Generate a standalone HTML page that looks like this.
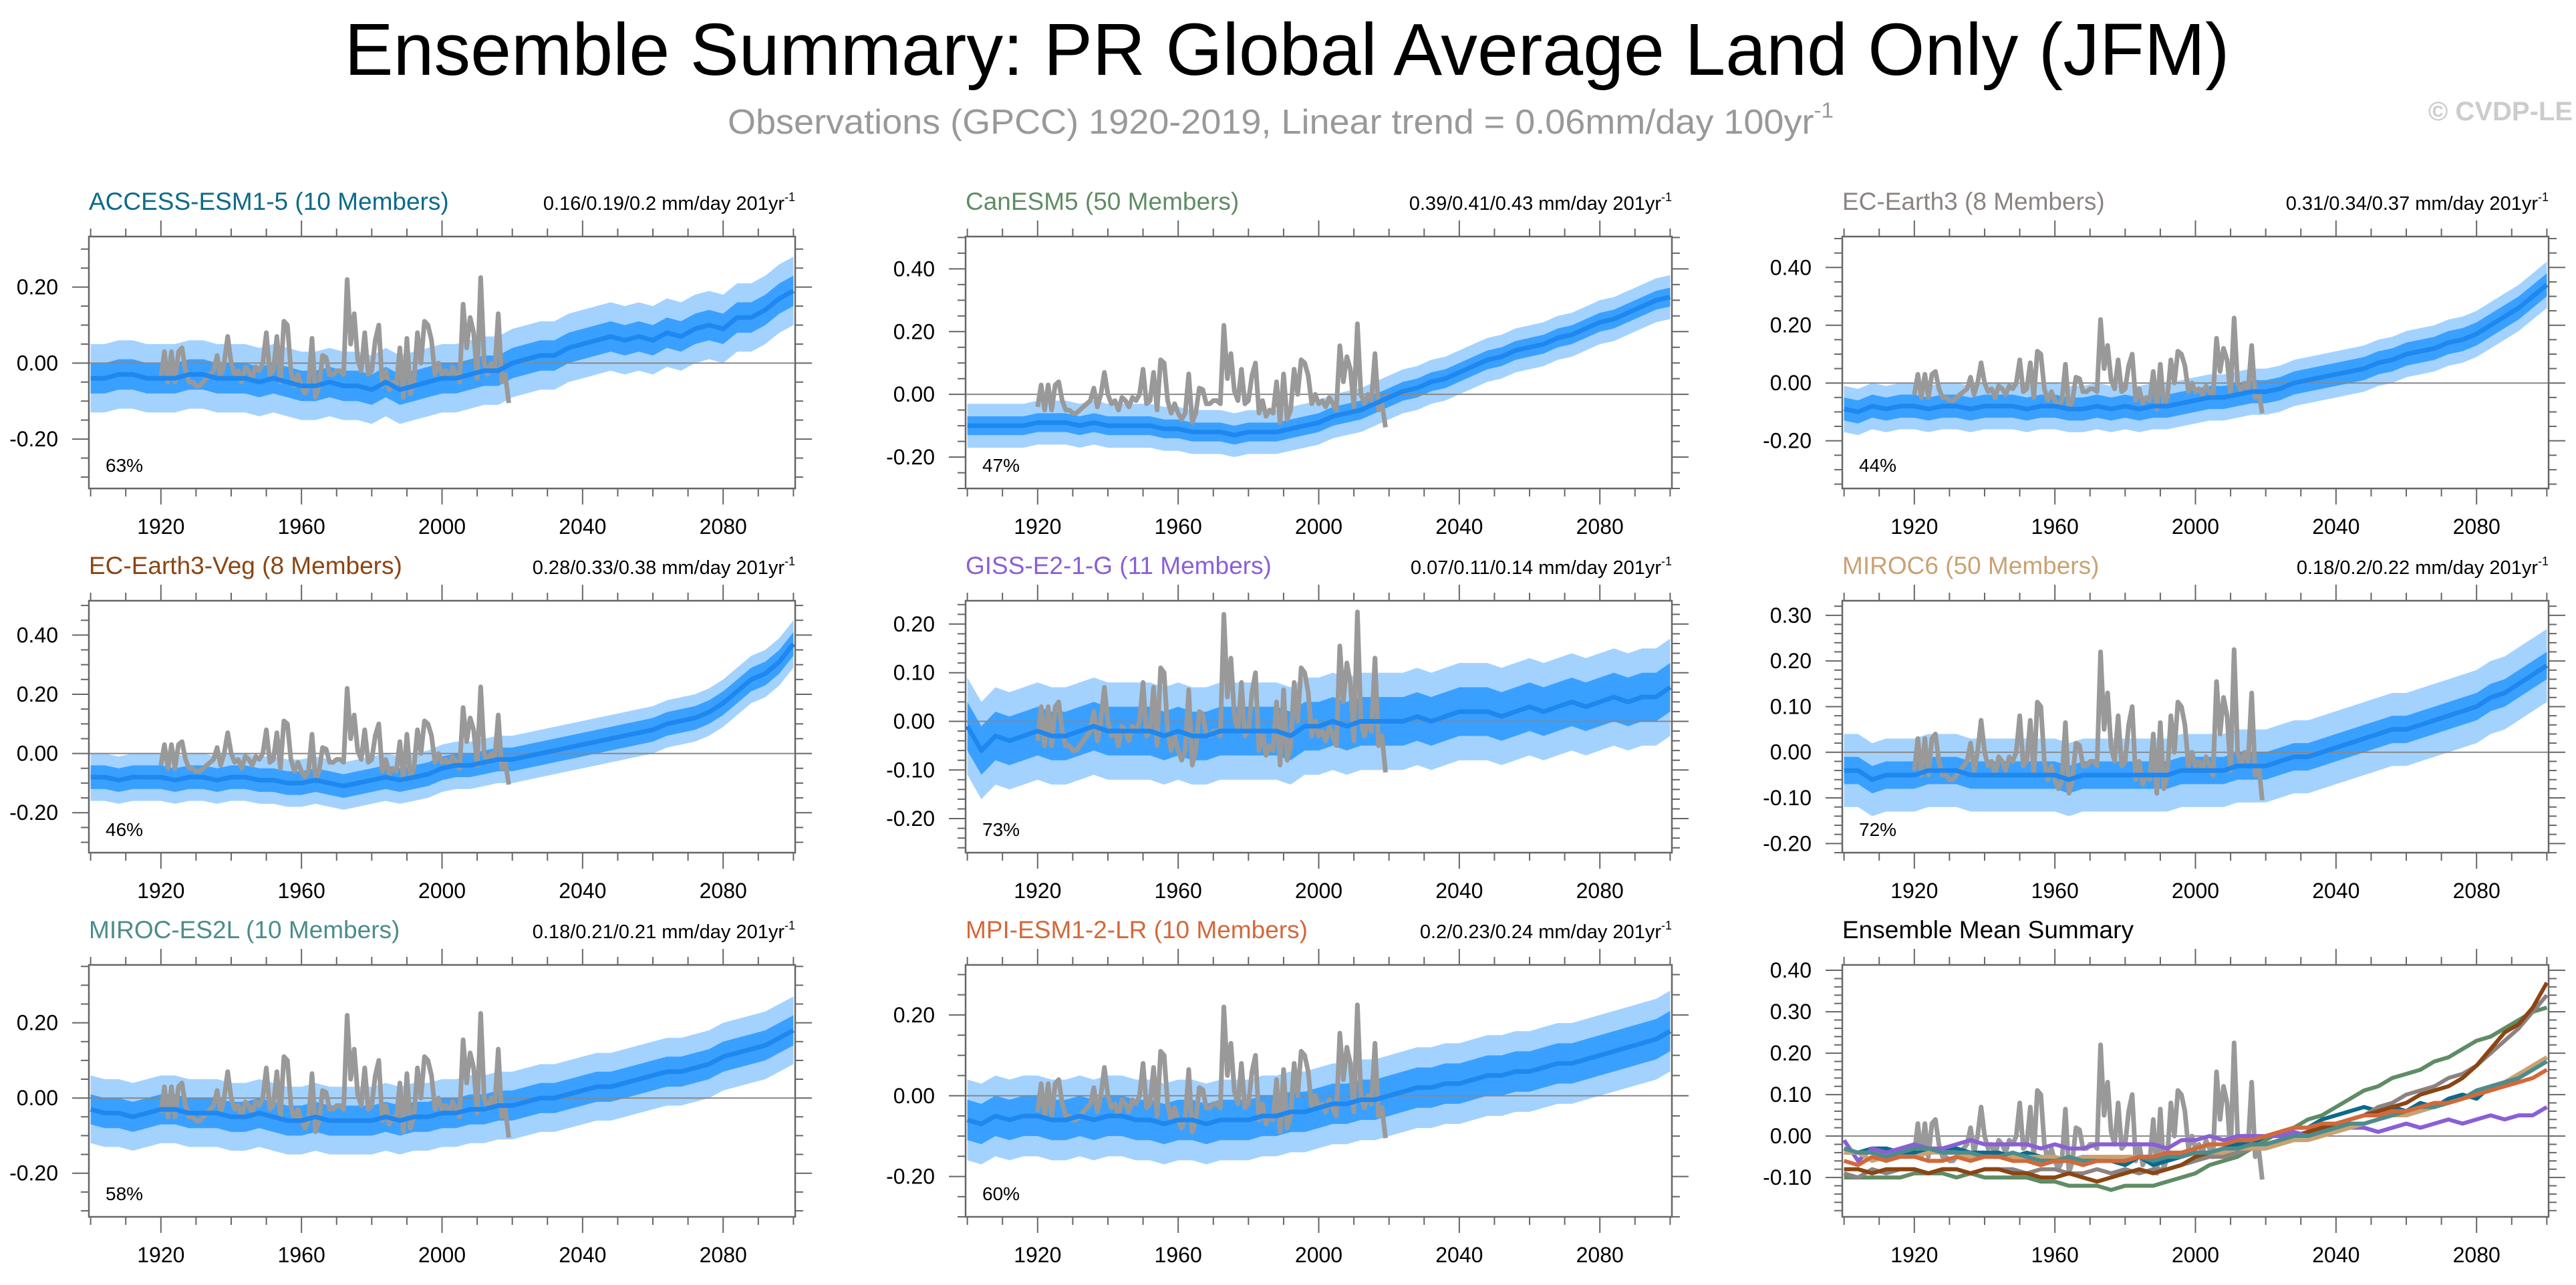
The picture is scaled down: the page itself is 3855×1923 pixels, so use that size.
<!DOCTYPE html>
<html><head><meta charset="utf-8"><title>Ensemble Summary PR</title>
<style>
html,body{margin:0;padding:0;background:#fff;}
svg{display:block;font-family:"Liberation Sans",Arial,sans-serif;}
</style></head>
<body>
<svg id="fig" width="3855" height="1923" viewBox="0 0 3855 1923" xmlns="http://www.w3.org/2000/svg">
<rect x="0" y="0" width="3855" height="1923" fill="#fff"/>
<text x="1926" y="112" font-size="110" text-anchor="middle" fill="#000" textLength="2821" lengthAdjust="spacingAndGlyphs">Ensemble Summary: PR Global Average Land Only (JFM)</text>
<text x="1089" y="200" font-size="52" fill="#999" textLength="1655" lengthAdjust="spacingAndGlyphs">Observations (GPCC) 1920-2019, Linear trend = 0.06mm/day 100yr<tspan font-size="32" dy="-24">-1</tspan></text>
<text x="3850" y="180" font-size="40" font-weight="bold" fill="#ccc" text-anchor="end">© CVDP-LE</text>
<g id="panels"></g>
</svg>
<script>
// ---- data ----
const obsYears0 = 1920;
const obs = [-0.04,0.03,-0.05,0.03,-0.05,0.03,0.04,-0.02,-0.05,-0.05,
-0.06,-0.06,-0.05,-0.04,-0.03,-0.02,0.02,-0.04,0.0,0.07,
0.0,-0.03,-0.02,-0.05,-0.01,-0.02,-0.04,-0.01,-0.02,0.0,
0.08,-0.03,-0.02,0.07,-0.05,0.11,0.10,-0.02,-0.06,-0.03,
-0.06,-0.08,-0.06,0.065,-0.09,-0.06,0.02,0.015,-0.03,-0.03,
-0.02,-0.02,-0.03,0.22,0.05,0.13,0.01,-0.02,0.08,-0.03,
-0.02,0.06,0.10,-0.06,-0.02,-0.07,-0.05,-0.06,0.04,-0.09,
0.065,-0.08,-0.05,0.08,0.0,0.11,0.10,0.06,-0.03,0.0,
-0.03,-0.02,-0.04,-0.01,-0.03,-0.05,0.155,0.04,0.12,0.08,
-0.04,0.225,0.0,-0.03,0.0,-0.02,0.13,-0.05,-0.03,-0.105];
const meanYears0 = 1900;
const meanStep = 4;
const accessMean = [-0.04,-0.04,-0.03,-0.03,-0.04,-0.04,-0.04,-0.03,-0.03,-0.04,-0.04,-0.04,-0.05,-0.04,-0.05,-0.06,-0.06,-0.05,-0.06,-0.06,-0.07,-0.05,-0.07,-0.06,-0.05,-0.04,-0.04,-0.03,-0.02,-0.02,0.0,0.01,0.02,0.02,0.04,0.05,0.06,0.07,0.06,0.07,0.06,0.08,0.07,0.09,0.10,0.09,0.12,0.12,0.14,0.17,0.19];
const canesmMean = [-0.10,-0.10,-0.10,-0.10,-0.10,-0.09,-0.09,-0.09,-0.10,-0.09,-0.10,-0.10,-0.10,-0.10,-0.11,-0.11,-0.12,-0.12,-0.12,-0.13,-0.12,-0.12,-0.12,-0.11,-0.10,-0.09,-0.07,-0.06,-0.05,-0.03,-0.01,0.01,0.02,0.04,0.05,0.07,0.09,0.11,0.12,0.14,0.15,0.16,0.18,0.19,0.21,0.23,0.24,0.26,0.28,0.30,0.31];
const ecearthMean = [-0.09,-0.10,-0.08,-0.09,-0.08,-0.08,-0.09,-0.08,-0.08,-0.09,-0.08,-0.08,-0.08,-0.09,-0.08,-0.08,-0.09,-0.09,-0.08,-0.09,-0.08,-0.09,-0.08,-0.08,-0.07,-0.06,-0.05,-0.05,-0.04,-0.03,-0.03,-0.02,0.0,0.01,0.02,0.03,0.04,0.05,0.07,0.08,0.10,0.11,0.12,0.14,0.15,0.17,0.20,0.23,0.26,0.30,0.34];
const vegMean = [-0.08,-0.08,-0.09,-0.08,-0.08,-0.08,-0.09,-0.08,-0.08,-0.09,-0.08,-0.08,-0.09,-0.09,-0.10,-0.10,-0.09,-0.10,-0.11,-0.10,-0.09,-0.08,-0.09,-0.08,-0.07,-0.05,-0.04,-0.04,-0.03,-0.02,-0.02,-0.01,0.0,0.01,0.02,0.03,0.04,0.05,0.06,0.07,0.08,0.10,0.11,0.12,0.14,0.17,0.21,0.25,0.27,0.31,0.37];
const gissMean = [-0.01,-0.06,-0.03,-0.04,-0.03,-0.02,-0.03,-0.03,-0.02,-0.01,-0.02,-0.02,-0.02,-0.02,-0.03,-0.02,-0.03,-0.03,-0.02,-0.02,-0.02,-0.02,-0.02,-0.03,-0.01,-0.01,0.0,-0.01,0.0,0.0,0.0,0.0,0.01,0.0,0.01,0.02,0.02,0.02,0.01,0.02,0.03,0.02,0.03,0.04,0.03,0.04,0.05,0.04,0.05,0.05,0.07];
const miroc6Mean = [-0.04,-0.04,-0.06,-0.05,-0.05,-0.05,-0.04,-0.04,-0.04,-0.05,-0.05,-0.05,-0.05,-0.05,-0.05,-0.05,-0.06,-0.05,-0.05,-0.05,-0.05,-0.05,-0.05,-0.05,-0.04,-0.04,-0.04,-0.04,-0.03,-0.03,-0.03,-0.02,-0.01,-0.01,0.0,0.01,0.02,0.03,0.04,0.05,0.05,0.06,0.07,0.08,0.09,0.10,0.12,0.13,0.15,0.17,0.19];
const es2lMean = [-0.03,-0.04,-0.04,-0.05,-0.04,-0.03,-0.03,-0.04,-0.04,-0.04,-0.05,-0.05,-0.04,-0.05,-0.06,-0.06,-0.05,-0.06,-0.06,-0.06,-0.06,-0.05,-0.06,-0.05,-0.05,-0.04,-0.04,-0.03,-0.03,-0.02,-0.02,-0.01,0.0,0.0,0.01,0.02,0.03,0.03,0.04,0.05,0.06,0.07,0.07,0.08,0.09,0.11,0.12,0.13,0.14,0.16,0.18];
const mpiMean = [-0.06,-0.07,-0.05,-0.06,-0.05,-0.05,-0.06,-0.06,-0.05,-0.06,-0.05,-0.05,-0.06,-0.06,-0.07,-0.06,-0.06,-0.07,-0.06,-0.06,-0.06,-0.05,-0.05,-0.04,-0.04,-0.03,-0.02,-0.02,-0.01,-0.01,0.0,0.01,0.02,0.02,0.03,0.03,0.04,0.05,0.05,0.06,0.06,0.07,0.08,0.08,0.09,0.10,0.11,0.12,0.13,0.14,0.16];
const modelNames = ["ACCESS-ESM1-5 (10 Members)","CanESM5 (50 Members)","EC-Earth3 (8 Members)","EC-Earth3-Veg (8 Members)","GISS-E2-1-G (11 Members)","MIROC6 (50 Members)","MIROC-ES2L (10 Members)","MPI-ESM1-2-LR (10 Members)"];
const trendLabels = ["0.16/0.19/0.2","0.39/0.41/0.43","0.31/0.34/0.37","0.28/0.33/0.38","0.07/0.11/0.14","0.18/0.2/0.22","0.18/0.21/0.21","0.2/0.23/0.24"];
const pctLabels = ["63%","47%","44%","46%","73%","72%","58%","60%"];
const innerSpread = [0.04,0.03,0.04,0.04,0.05,0.03,0.04,0.05];
const outerSpread = [0.09,0.07,0.08,0.08,0.10,0.08,0.09,0.10];
const yMin = [-0.33,-0.30,-0.365,-0.335,-0.27,-0.22,-0.316,-0.30,-0.195];
const yMax = [0.333,0.503,0.507,0.516,0.248,0.332,0.354,0.324,0.413];
const yMajor = [0.2,0.2,0.2,0.2,0.1,0.1,0.2,0.2,0.1];
const yMinor = [0.05,0.05,0.05,0.05,0.02,0.02,0.05,0.05,0.02];
const xTickLabels = [1920,1960,2000,2040,2080];
// ---- layout ----
const means = [accessMean,canesmMean,ecearthMean,vegMean,gissMean,miroc6Mean,es2lMean,mpiMean];
const modelColors = ["#0b6a8a","#5f8c65","#8c8282","#8b4513","#8a5fd6","#c9a272","#4c8c8c","#d4683a"];
const colX = [133,1445,2757], rowY = [354,899,1444], PW = 1057, PH = 377;
const NS = "http://www.w3.org/2000/svg";
const root = document.getElementById("panels");
function mk(tag, attrs, parent){const e=document.createElementNS(NS,tag);for(const k in attrs)e.setAttribute(k,attrs[k]);(parent||root).appendChild(e);return e;}

for(let p=0;p<9;p++){
  const x0=colX[p%3], y0=rowY[Math.floor(p/3)];
  const g=mk("g",{});
  
  
  const xs=yr=>x0+(yr-1899.5)/201*PW;
  const ys=v=>y0+PH-(v-yMin[p])/(yMax[p]-yMin[p])*PH;
  // title
  const t=mk("text",{x:x0,y:y0-40,"font-size":37,fill:p<8?modelColors[p]:"#000"},g);
  t.textContent=p<8?modelNames[p]:"Ensemble Mean Summary";
  
  
  if(p<8){
    const tr=mk("text",{x:x0+PW,y:y0-40,"font-size":29,fill:"#000","text-anchor":"end"},g);
    tr.innerHTML=trendLabels[p]+" mm/day 201yr<tspan font-size='18' dy='-13'>-1</tspan>";
    
    
  }
  const clipId="clip"+p;
  const cp=mk("clipPath",{id:clipId},g);
  mk("rect",{x:x0,y:y0,width:PW,height:PH},cp);
  const pg=mk("g",{"clip-path":"url(#"+clipId+")"},g);
  if(p<8){
    const m=means[p];
    const band=(w,fill,name)=>{
      let up=[],dn=[];
      m.forEach((v,i)=>{const yr=meanYears0+i*meanStep;up.push(xs(yr)+","+ys(v+w));dn.unshift(xs(yr)+","+ys(v-w));});
      const b=mk("polygon",{points:up.concat(dn).join(" "),fill:fill},pg);
      
      
    };
    band(outerSpread[p],"#a3d2ff","outer-spread-band");
    band(innerSpread[p],"#3aa0ff","inner-spread-band");
  }
  // zero line
  const z=mk("line",{x1:x0,x2:x0+PW,y1:ys(0),y2:ys(0),stroke:"#888","stroke-width":2},pg);
  
  
  const obsLine=mk("polyline",{points:obs.map((v,i)=>xs(obsYears0+i)+","+ys(v)).join(" "),fill:"none",stroke:"#999","stroke-width":7,"stroke-linejoin":"round"},pg);
  
  
  if(p<8){
    const ml=mk("polyline",{points:means[p].map((v,i)=>xs(meanYears0+i*meanStep)+","+ys(v)).join(" "),fill:"none",stroke:"#1e88f0","stroke-width":7,"stroke-linejoin":"round"},pg);
    
    
  } else {
    means.forEach((m,k)=>{
      const ml=mk("polyline",{points:m.map((v,i)=>xs(meanYears0+i*meanStep)+","+ys(v)).join(" "),fill:"none",stroke:modelColors[k],"stroke-width":6,"stroke-linejoin":"round"},pg);
      
      
    });
  }
  // frame
  const fr=mk("rect",{x:x0,y:y0,width:PW,height:PH,fill:"none",stroke:"#666","stroke-width":2.5},g);
  
  
  // x ticks
  for(let yr=1900;yr<=2100;yr+=10){
    const major=xTickLabels.indexOf(yr)>=0, L=major?24:12, x=xs(yr);
    mk("line",{x1:x,x2:x,y1:y0,y2:y0-L,stroke:"#666","stroke-width":2},g);
    mk("line",{x1:x,x2:x,y1:y0+PH,y2:y0+PH+L,stroke:"#666","stroke-width":2},g);
  }
  xTickLabels.forEach(yr=>{
    const l=mk("text",{x:xs(yr),y:y0+PH+68,"font-size":32,"text-anchor":"middle",fill:"#000"},g);
    l.textContent=yr;
    
    
  });
  // y ticks
  const n0=Math.ceil(yMin[p]/yMinor[p]-1e-6), n1=Math.floor(yMax[p]/yMinor[p]+1e-6);
  for(let n=n0;n<=n1;n++){
    const v=n*yMinor[p], y=ys(v);
    const r=v/yMajor[p], major=Math.abs(r-Math.round(r))<1e-6, L=major?25:12;
    mk("line",{x1:x0,x2:x0-L,y1:y,y2:y,stroke:"#666","stroke-width":2},g);
    mk("line",{x1:x0+PW,x2:x0+PW+L,y1:y,y2:y,stroke:"#666","stroke-width":2},g);
    if(major){
      const l=mk("text",{x:x0-46,y:y+11,"font-size":32,"text-anchor":"end",fill:"#000"},g);
      l.textContent=(Math.abs(v)<1e-9?0:v).toFixed(2);
      
      
    }
  }
  if(p<8){
    const pc=mk("text",{x:x0+25,y:y0+PH-25,"font-size":28,fill:"#000"},g);
    pc.textContent=pctLabels[p];
    
    
  }
}
</script>
</body></html>
